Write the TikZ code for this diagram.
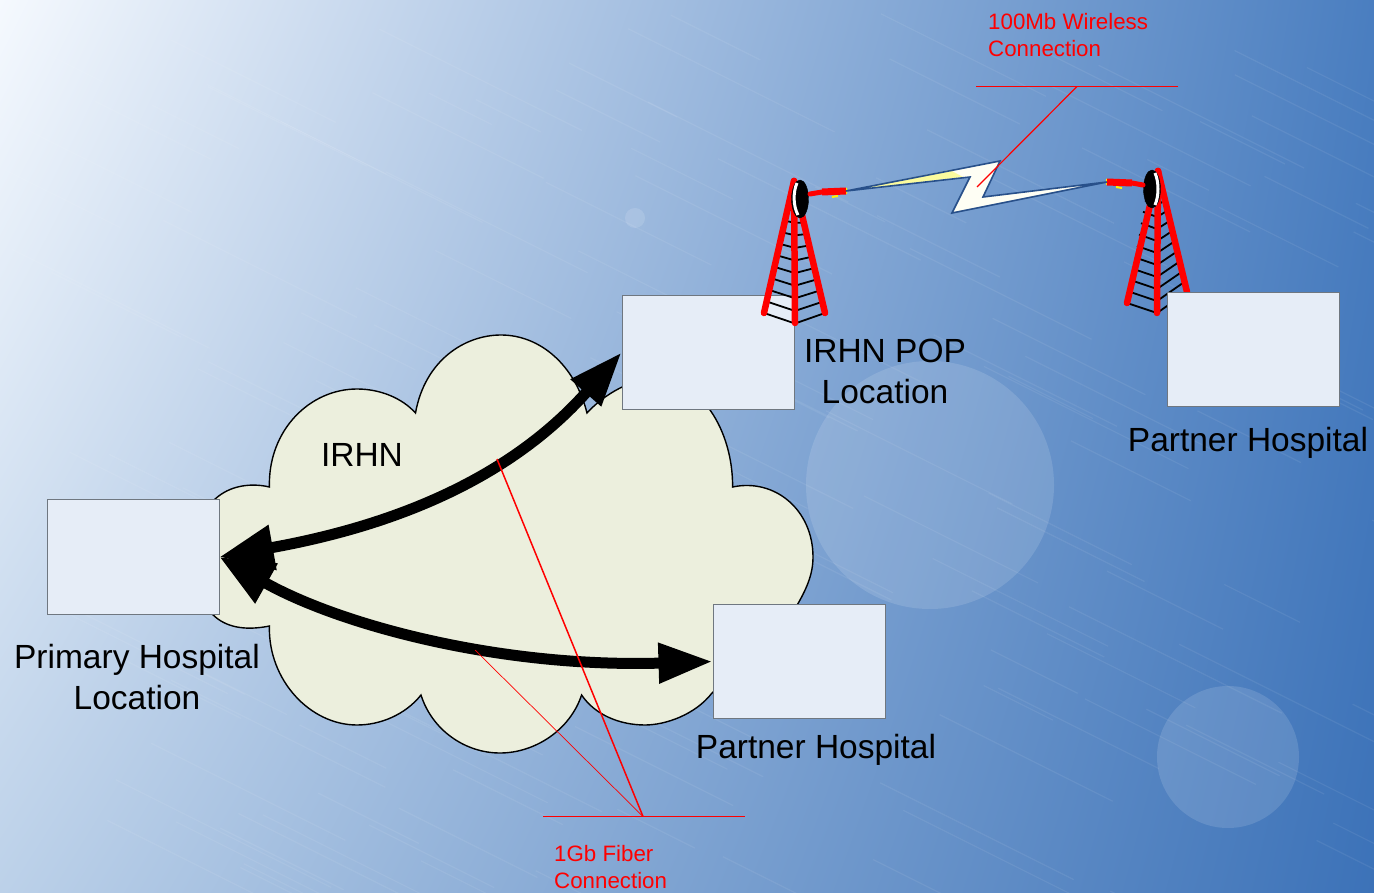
\documentclass[tikz,border=0pt]{standalone}
\usepackage{fontspec}
\setmainfont{Liberation Sans}
\usetikzlibrary{arrows.meta,shadings,shapes.geometric}
\definecolor{boxfill}{HTML}{E6EDF7}
\definecolor{boxline}{HTML}{6F7780}
\definecolor{cloudfill}{HTML}{ECEFDD}
\definecolor{boltline}{HTML}{28508A}
\definecolor{boltfill}{HTML}{FEFEF4}
\definecolor{boltglow}{HTML}{FBFB9E}
\definecolor{skytl}{HTML}{F5F9FE}
\definecolor{skytr}{HTML}{4A7EC0}
\definecolor{skybl}{HTML}{BCD1E9}
\definecolor{skybr}{HTML}{3C72B8}
\tikzset{
	site/.style={draw=boxline,line width=1pt,fill=boxfill,minimum width=172pt,minimum height=114.5pt,inner sep=0pt},
	caption/.style={align=center,font=\fontsize{33.5}{41}\selectfont,inner sep=0pt},
	callout/.style={align=left,text=red,font=\fontsize{22.3}{27}\selectfont,inner sep=0pt},
	link/.style={line width=11pt,{Triangle[length=54pt,width=43pt]}-{Triangle[length=54pt,width=38pt]}},
	leader/.style={draw=red,line width=1.2pt},
	leg/.style={draw=red,line width=6.5pt,line cap=round},
	rung/.style={draw=black,line width=1.8pt},
	feed/.style={draw=red,line width=5pt,line cap=round},
	feedbody/.style={draw=red,line width=7pt},
	tick/.style={draw=yellow,line width=2pt},
	dish/.style={draw=black,fill=black,ellipse,minimum width=17pt,minimum height=38pt,inner sep=0pt},
	rim/.style={draw=white,line width=3pt},
	glow/.style={fill=white,opacity=0.13}
}
\begin{document}
\begin{tikzpicture}[x=1pt,y=-1pt]
				\useasboundingbox (0,0) rectangle (1374,893);
				\shade[upper left=skytl,upper right=skytr,lower left=skybl,lower right=skybr] (0,0) rectangle (1374,893);
				\begin{scope}
					\clip (0,0) rectangle (1374,893);
					\pgfmathsetseed{7}
					\foreach \s in {1,...,160}{
						\pgfmathsetmacro{\sx}{rnd*1374}
						\pgfmathsetmacro{\sy}{rnd*893}
						\pgfmathsetmacro{\sl}{60+rnd*160}
						\draw[white,opacity=0.07,line width=1.2pt] (\sx,\sy) -- ++(\sl,0.5*\sl);
					}
				\end{scope}
				\fill[glow] (930,485) circle (124);
				\fill[glow] (1228,757) circle (71);
				\fill[glow] (635,218) circle (10);
				\draw[fill=cloudfill,line width=1.4pt] (269.4,487) .. controls (268,430) and (310,389) .. (357,389)
					.. controls (380,389) and (402,398) .. (415.5,413)
					.. controls (425,360) and (465,335) .. (501,335)
					.. controls (540,335) and (575,365) .. (587,413)
					.. controls (610,388) and (640,378) .. (655,378)
					.. controls (700,378) and (733,430) .. (732.6,487)
					.. controls (775,478) and (813,510) .. (813,557)
					.. controls (813,575) and (806,590) .. (796,607)
					.. controls (770,650) and (735,670) .. (712,693)
					.. controls (695,715) and (665,725) .. (645,725)
					.. controls (620,725) and (595,715) .. (581.6,695)
					.. controls (570,730) and (535,753) .. (500,753)
					.. controls (465,753) and (432,730) .. (421,695)
					.. controls (405,715) and (380,725) .. (357,725)
					.. controls (310,725) and (268,680) .. (269.4,626)
					.. controls (240,632) and (195,630) .. (195,557)
					.. controls (195,490) and (240,480) .. (269.4,487) -- cycle;
				\node[site] (primary) at (133,557) {};
				\node[site] (pop) at (708,352.5) {};
				\node[site] (partnerA) at (799,661.5) {};
				\coordinate (popbaseL) at (764,313);
				\coordinate (popbaseC) at (795,323);
				\coordinate (popbaseR) at (825,313);
				\coordinate (poptop) at (794,181);
				\coordinate (popfeedA) at (810,194);
				\coordinate (popfeedM) at (822,192);
				\coordinate (popfeedB) at (846,191);
				\coordinate (farbaseL) at (1127,303);
				\coordinate (farbaseC) at (1157,313);
				\coordinate (farbaseR) at (1187,292);
				\coordinate (fartop) at (1158,171);
				\coordinate (farfeedA) at (1143,185);
				\coordinate (farfeedM) at (1132,183);
				\coordinate (farfeedB) at (1107,182);
				\foreach \i in {0,...,9}{
					\draw[rung] (764+2.7*\i,313-11.5*\i) -- (795,323.5-12.6*\i) -- (825-2.4*\i,313-11.3*\i);
					\draw[rung] (1127+2*\i,303-11.4*\i) -- (1157,313-12*\i) -- (1187-2.4*\i,292-10.2*\i);
				}
				\draw[leg] (popbaseL) -- (poptop);
				\draw[leg] (popbaseC) -- (poptop);
				\draw[leg] (popbaseR) -- (poptop);
				\draw[leg] (farbaseL) -- (fartop);
				\draw[leg] (farbaseC) -- (fartop);
				\draw[leg] (farbaseR) -- (fartop);
				\node[site] (partnerB) at (1253,349.5) {};
				\node[dish] (popdish) at (800,199) {};
				\node[dish] (fardish) at (1152,189) {};
				\draw[rim] (797,183) .. controls (793,192) and (793,206) .. (798,215);
				\draw[rim] (1155,173) .. controls (1159,182) and (1159,196) .. (1155,205);
				\draw[tick] (832,197) -- (838,196) (846,188) -- (846,194);
				\draw[tick] (1107,179) -- (1107,185) (1116,187) -- (1122,188);
				\draw[feed] (popfeedA) -- (popfeedM);
				\draw[feedbody] (popfeedM) -- (popfeedB);
				\draw[feed] (farfeedA) -- (farfeedM);
				\draw[feedbody] (farfeedM) -- (farfeedB);
				\fill[boltfill] (popfeedB) -- (1000,161) -- (983,197) -- (farfeedB) -- (952,213) -- (970,177) -- cycle;
				\fill[boltglow] (popfeedB) -- (950,170) -- (963,177) -- cycle;
				\draw[draw=boltline,line width=1.6pt] (popfeedB) -- (1000,161) -- (983,197) -- (farfeedB) -- (952,213) -- (970,177) -- cycle;
				\coordinate (topbarL) at (976,86.5);
				\coordinate (topbarR) at (1178,86.5);
				\coordinate (topbarM) at (1077,86.5);
				\coordinate (boltend) at (977,187);
				\coordinate (lowbarL) at (543,816.5);
				\coordinate (lowbarR) at (745,816.5);
				\coordinate (lowbarM) at (643,816.5);
				\coordinate (upperend) at (497,459);
				\coordinate (lowerend) at (475,650);
				\draw[link] (primary.east) .. controls (370,530) and (500,490) .. (pop.west);
				\draw[link] (primary.east) .. controls (340,625) and (500,668) .. (partnerA.west);
				\draw[leader] (topbarL) -- (topbarR);
				\draw[leader] (topbarM) -- (boltend);
				\draw[leader] (lowbarL) -- (lowbarR);
				\draw[leader,line width=1.5pt] (lowbarM) -- (upperend);
				\draw[leader,line width=0.7pt] (lowbarM) -- (lowerend);
				\node[caption] (irhn) at (362,455) {IRHN};
				\node[caption] (poplabel) at (885,371) {IRHN POP\\Location};
				\node[caption] (partnerBlabel) at (1248,443) {Partner Hospital};
				\node[caption] (partnerAlabel) at (816,750) {Partner Hospital};
				\node[caption] (primarylabel) at (137,677) {Primary Hospital\\Location};
				\node[callout,anchor=west] (wireless) at (988,35) {100Mb Wireless\\Connection};
				\node[callout,anchor=west] (fiber) at (554,867) {1Gb Fiber\\Connection};
\end{tikzpicture}
\end{document}
